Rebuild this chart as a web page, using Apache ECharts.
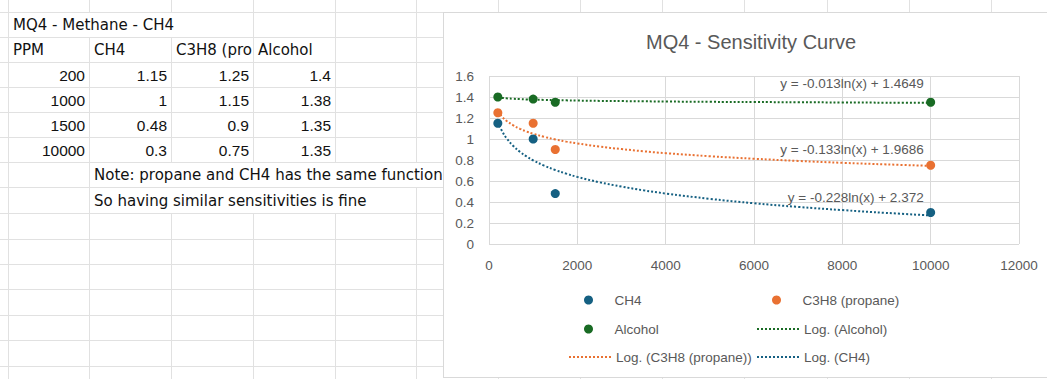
<!DOCTYPE html>
<html>
<head>
<meta charset="utf-8">
<script src="https://cdn.jsdelivr.net/npm/echarts@6/dist/echarts.min.js"></script>
<style>
html, body { margin: 0; padding: 0; background: #fff; overflow: hidden; }
#sheet { position: absolute; left: 0; top: 0; width: 1047px; height: 379px; }
.gl { position: absolute; background: #e1e1e1; }
.cell { position: absolute; font-family: 'DejaVu Sans', sans-serif; font-size: 15px; color: #111;
        white-space: nowrap; overflow: hidden; box-sizing: border-box; background: #fff; }
.num { text-align: right; padding-right: 4px; font-family: 'Liberation Sans', Arial, sans-serif; font-size: 15.5px; }
.txt { text-align: left; padding-left: 4px; }
#chart { position: absolute; left: 443px; top: 12px; width: 616px; height: 366px; background: #fff;
         border: 1px solid #d9d9d9; box-sizing: border-box; }
</style>
</head>
<body>
<div id="sheet"></div>
<div id="chart"></div>
<script>
// sheet / chart data
var ppm = [200, 1000, 1500, 10000];
var ch4 = [1.15, 1, 0.48, 0.3];
var c3h8 = [1.25, 1.15, 0.9, 0.75];
var alcohol = [1.4, 1.38, 1.35, 1.35];
var headers = ['PPM', 'CH4', 'C3H8 (propane)', 'Alcohol'];
var sheetTitle = 'MQ4 - Methane - CH4';
var notes = ['Note: propane and CH4 has the same function', 'So having similar sensitivities is fine'];

// logarithmic trendlines
var trendX = [200, 300, 400, 550, 700, 850, 1000, 1250, 1500, 1750, 2000, 2500, 3000, 3500, 4000, 5000, 6000, 7000, 8000, 9000, 10000];
var ch4Trend = [1.164, 1.072, 1.006, 0.934, 0.878, 0.834, 0.797, 0.746, 0.705, 0.670, 0.639, 0.588, 0.547, 0.511, 0.481, 0.430, 0.388, 0.353, 0.323, 0.296, 0.272];
var c3h8Trend = [1.264, 1.210, 1.172, 1.130, 1.097, 1.071, 1.050, 1.020, 0.996, 0.975, 0.958, 0.928, 0.904, 0.883, 0.865, 0.836, 0.812, 0.791, 0.773, 0.758, 0.744];
var alcoholTrend = [1.396, 1.391, 1.387, 1.383, 1.380, 1.377, 1.375, 1.372, 1.370, 1.368, 1.366, 1.363, 1.361, 1.359, 1.357, 1.354, 1.352, 1.350, 1.348, 1.346, 1.345];
var equations = ['y = -0.228ln(x) + 2.372', 'y = -0.133ln(x) + 1.9686', 'y = -0.013ln(x) + 1.4649'];

var xTicks = { min: 0, max: 12000, interval: 2000 };
var yTicks = { min: 0, max: 1.6, interval: 0.2 };

// ---- spreadsheet grid ----
var colX = [8, 89, 171, 253, 335, 416, 498, 580, 662, 744, 827, 909, 991];
var rowY = [12, 37, 62, 87, 112, 137, 162, 187, 213, 239, 264, 289, 315, 340, 366];
var sheet = document.getElementById('sheet');
var measure = document.createElement('canvas').getContext('2d');

function line(l, t, w, h) {
	var d = document.createElement('div');
	d.className = 'gl';
	d.style.left = l + 'px'; d.style.top = t + 'px';
	d.style.width = w + 'px'; d.style.height = h + 'px';
	sheet.appendChild(d);
}
for (var i = 0; i < rowY.length; i++) line(0, rowY[i], 1047, 1);
for (var j = 0; j < colX.length; j++) line(colX[j], 0, 1, 379);

// Excel cuts a text short when the next cell is filled
function fit(text, width, fontCss) {
	measure.font = fontCss;
	var t = text;
	while (t.length > 1 && measure.measureText(t).width > width) t = t.slice(0, -1);
	return t;
}

function cell(text, col, row, span, cls, clip) {
	var d = document.createElement('div');
	d.className = 'cell ' + cls;
	var x0 = colX[col] + 1, x1 = colX[col + span];
	var y0 = rowY[row] + 1, y1 = rowY[row + 1];
	d.style.left = x0 + 'px'; d.style.top = y0 + 'px';
	d.style.width = (x1 - x0) + 'px'; d.style.height = (y1 - y0) + 'px';
	d.style.lineHeight = (y1 - y0 + 1) + 'px';
	d.textContent = clip ? fit(text, x1 - x0 - 5, "15px 'DejaVu Sans'") : text;
	sheet.appendChild(d);
}
cell(sheetTitle, 0, 0, 3, 'txt');
for (var k = 0; k < headers.length; k++) cell(headers[k], k, 1, 1, 'txt', true);
for (var r = 0; r < ppm.length; r++) {
	cell(String(ppm[r]), 0, r + 2, 1, 'num');
	cell(String(ch4[r]), 1, r + 2, 1, 'num');
	cell(String(c3h8[r]), 2, r + 2, 1, 'num');
	cell(String(alcohol[r]), 3, r + 2, 1, 'num');
}
cell(notes[0], 1, 6, 5, 'txt');
cell(notes[1], 1, 7, 4, 'txt');

// ---- chart ----
var myChart = echarts.init(document.getElementById('chart'), null, { renderer: 'svg' });

var font = 'Liberation Sans, Arial, sans-serif';
var grey = '#595959';
var blue = '#156082', orange = '#E97132', green = '#196B24';

function pairs(xs, ys) {
	var out = [];
	for (var i = 0; i < xs.length; i++) out.push([xs[i], ys[i]]);
	return out;
}

function scatter(name, ys, color) {
	return {
		name: name,
		type: 'scatter',
		symbol: 'circle',
		symbolSize: 9,
		z: 5,
		itemStyle: { color: color, opacity: 1 },
		data: pairs(ppm, ys)
	};
}

function trend(name, ys, color, eq, dy) {
	var data = pairs(trendX, ys);
	var last = data.length - 1;
	data[last] = {
		value: data[last],
		label: {
			show: true,
			position: 'inside',
			align: 'right',
			verticalAlign: 'middle',
			offset: [-7, dy],
			formatter: eq,
			color: grey,
			fontSize: 13.5,
			fontFamily: font
		}
	};
	return {
		name: name,
		type: 'line',
		smooth: 0.4,
		symbol: 'circle',
		symbolSize: 0,
		showSymbol: true,
		z: 3,
		lineStyle: { color: color, width: 2, type: [2, 2] },
		itemStyle: { color: color },
		data: data
	};
}

function legendAt(name, left, top, isLine) {
	return {
		data: [name],
		left: left,
		top: top,
		padding: 0,
		itemWidth: 42,
		itemHeight: 9,
		selectedMode: false,
		itemStyle: isLine ? { opacity: 0 } : { opacity: 1 },
		textStyle: { color: grey, fontSize: 13.5, fontFamily: font }
	};
}

option = {
	backgroundColor: '#fff',
	animation: false,
	title: {
		text: 'MQ4 - Sensitivity Curve',
		left: 'center',
		top: 19,
		padding: 0,
		textStyle: { color: grey, fontSize: 20, fontWeight: 'normal', fontFamily: font }
	},
	grid: { left: 45, right: 39, top: 63, bottom: 133 },
	xAxis: {
		type: 'value',
		min: xTicks.min,
		max: xTicks.max,
		interval: xTicks.interval,
		axisLine: { show: false },
		axisTick: { show: false },
		splitLine: { show: true, lineStyle: { color: '#d9d9d9', width: 1 } },
		axisLabel: {
			color: grey, fontSize: 13.5, fontFamily: font, margin: 14,
			formatter: function (v) { return String(v); }
		}
	},
	yAxis: {
		type: 'value',
		min: yTicks.min,
		max: yTicks.max,
		interval: yTicks.interval,
		axisLine: { show: false },
		axisTick: { show: false },
		splitLine: { show: true, lineStyle: { color: '#d9d9d9', width: 1 } },
		axisLabel: {
			color: grey, fontSize: 13.5, fontFamily: font, margin: 15,
			formatter: function (v) { return String(Math.round(v * 10) / 10); }
		}
	},
	legend: [
		legendAt('CH4', 140, 280, false),
		legendAt('C3H8 (propane)', 328, 280, false),
		legendAt('Alcohol', 140, 309, false),
		legendAt('Log. (Alcohol)', 312, 309, true),
		legendAt('Log. (C3H8 (propane))', 124, 337, true),
		legendAt('Log. (CH4)', 312, 337, true)
	],
	series: [
		trend('Log. (Alcohol)', alcoholTrend, green, equations[2], -19),
		trend('Log. (C3H8 (propane))', c3h8Trend, orange, equations[1], -16),
		trend('Log. (CH4)', ch4Trend, blue, equations[0], -18),
		scatter('CH4', ch4, blue),
		scatter('C3H8 (propane)', c3h8, orange),
		scatter('Alcohol', alcohol, green)
	]
};
myChart.setOption(option);
</script>
</body>
</html>
